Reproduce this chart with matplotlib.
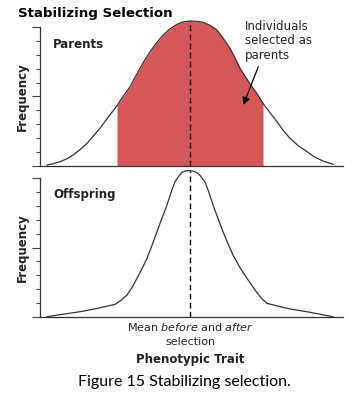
import numpy as np
import matplotlib
matplotlib.use("Agg")
import matplotlib.pyplot as plt

# Datos (rasgo fenotipico relativo a la media, frecuencia 0-10)
parents_x = [-14.3, -13.5, -13.0, -12.3, -11.7, -11.0, -10.3, -9.7, -9.0, -8.2, -7.3, -6.7,
             -6.0, -5.5, -5.0, -4.5, -4.0, -3.3, -2.7, -2.0, -1.3, -0.7, 0.0,
             0.7, 1.3, 2.0, 2.7, 3.3, 4.0, 4.5, 5.0, 5.6, 6.2, 6.8, 7.3, 8.0,
             8.7, 9.3, 10.0, 10.8, 11.7, 12.5, 13.3, 14.3]
parents_y = [0.07, 0.20, 0.31, 0.52, 0.79, 1.17, 1.63, 2.13, 2.71, 3.50, 4.34, 5.00,
             5.70, 6.37, 7.03, 7.65, 8.22, 8.90, 9.42, 9.87, 10.19, 10.37, 10.43,
             10.41, 10.34, 10.12, 9.78, 9.20, 8.47, 7.78, 7.03, 6.35, 5.70, 5.10, 4.51, 3.83,
             3.19, 2.58, 1.99, 1.47, 1.03, 0.63, 0.36, 0.12]

offspring_x = [-14.3, -12.7, -11.0, -9.2, -7.5, -6.9, -6.3, -5.8, -5.3, -4.8, -4.3, -3.8,
               -3.3, -2.8, -2.3, -1.9, -1.5, -1.1, -0.8, -0.4, 0.0,
               0.4, 0.8, 1.1, 1.5, 1.9, 2.3, 2.8, 3.3, 3.8, 4.3, 5.0, 5.7,
               6.7, 7.2, 7.7, 8.8, 10.0, 12.0, 14.3]
offspring_y = [0.02, 0.20, 0.38, 0.63, 0.91, 1.20, 1.58, 2.12, 2.78, 3.48, 4.22, 5.15,
               6.14, 7.12, 8.06, 8.95, 9.73, 10.15, 10.41, 10.52, 10.53,
               10.48, 10.34, 10.10, 9.73, 8.95, 8.06, 7.08, 6.14, 5.27, 4.46, 3.55, 2.78,
               1.75, 1.30, 0.98, 0.78, 0.58, 0.34, 0.02]

# limites de los padres seleccionados
sel_lo, sel_hi = -7.3, 7.3
mean_x = 0.0

W, H = 356, 398
fig = plt.figure(figsize=(W / 100, H / 100), dpi=100)

def fx(px):
    return px / W

def fy(py):
    return 1 - py / H

line_col = "#333333"
fill_col = "#D4585A"
txt_col = "#222222"

def style_axes(ax):
    ax.set_xlim(-15.0, 15.3)
    ax.set_ylim(0, 10.6)
    ax.patch.set_alpha(0)
    for s in ["top", "right"]:
        ax.spines[s].set_visible(False)
    ax.spines["left"].set_bounds(0, 10)
    ax.spines["left"].set_color(line_col)
    ax.spines["bottom"].set_color(line_col)
    ax.spines["left"].set_linewidth(0.9)
    ax.spines["bottom"].set_linewidth(0.9)
    ax.set_xticks([])
    ax.set_yticks([0, 5, 10])
    ax.set_yticks([1, 2, 3, 4, 6, 7, 8, 9], minor=True)
    ax.tick_params(axis="y", which="major", length=5.8, width=0.8, color="#444444", labelleft=False)
    ax.tick_params(axis="y", which="minor", length=3.0, width=0.8, color="#444444")

# Panel superior: padres
ax1 = fig.add_axes([fx(40), fy(166), fx(343) - fx(40), 10.6 * 13.9 / H])
style_axes(ax1)
px = np.array(parents_x)
py = np.array(parents_y)
mask = (px >= sel_lo) & (px <= sel_hi)
ax1.fill_between(px, 0, py, where=mask, color=fill_col, linewidth=0)
ax1.plot(px, py, color=line_col, lw=0.9)
ax1.plot([mean_x, mean_x], [0, max(parents_y)], color="black", lw=1.0, ls=(0, (4, 2.5)))
ax1.annotate("", xy=(5.33, 4.39), xytext=(6.83, 7.14),
             arrowprops=dict(arrowstyle="-|>", color="black", lw=0.9,
                             mutation_scale=11, shrinkA=0, shrinkB=0))

# Panel inferior: descendencia
ax2 = fig.add_axes([fx(40), fy(317), fx(343) - fx(40), 10.6 * 13.9 / H])
style_axes(ax2)
ax2.plot(offspring_x, offspring_y, color=line_col, lw=0.9)
ax2.plot([mean_x, mean_x], [0, max(offspring_y)], color="black", lw=1.0, ls=(0, (4, 2.5)))

# Textos
fig.text(fx(18), fy(14), "Stabilizing Selection", fontsize=9.6, fontweight="bold",
         color="black", ha="left", va="center")
fig.text(fx(53), fy(44), "Parents", fontsize=8.5, fontweight="bold", color=txt_col,
         ha="left", va="center")
fig.text(fx(53), fy(195), "Offspring", fontsize=8.5, fontweight="bold", color=txt_col,
         ha="left", va="center")
fig.text(fx(245), fy(41), "Individuals\nselected as\nparents", fontsize=8.5, color=txt_col,
         ha="left", va="center", linespacing=1.15)
fig.text(fx(22), fy(97), "Frequency", fontsize=8.5, fontweight="bold", color=txt_col,
         rotation=90, ha="center", va="center")
fig.text(fx(22), fy(248), "Frequency", fontsize=8.5, fontweight="bold", color=txt_col,
         rotation=90, ha="center", va="center")
fig.text(fx(190), fy(327), r"Mean $\it{before}$ and $\it{after}$", fontsize=8, color=txt_col,
         ha="center", va="center")
fig.text(fx(190), fy(342), "selection", fontsize=8, color=txt_col, ha="center", va="center")
fig.text(fx(190), fy(360), "Phenotypic Trait", fontsize=8.5, fontweight="bold", color=txt_col,
         ha="center", va="center")
fig.text(fx(184), fy(382), "Figure 15 Stabilizing selection.", fontsize=11.5, color="black",
         family=["Lato", "DejaVu Sans"], ha="center", va="center")

fig.savefig("out.png", dpi=100)
